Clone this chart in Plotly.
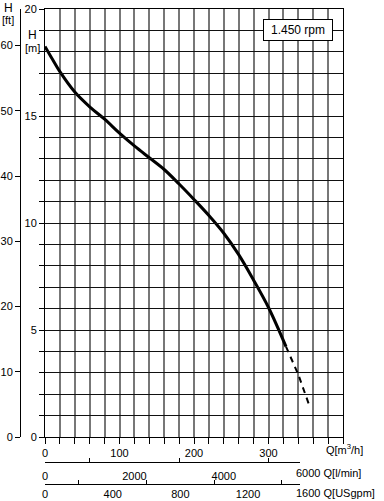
import plotly.graph_objects as go

# ---- data ----
q_solid = [0, 10, 20, 40, 60, 80, 100, 120, 140, 160, 180, 200, 220, 240, 260, 280, 300, 323.5]
h_solid = [18.25, 17.65, 17.07, 16.12, 15.43, 14.85, 14.2, 13.6, 13.05, 12.5, 11.82, 11.1, 10.35, 9.52, 8.52, 7.33, 6.05, 4.22]
q_dash = [323.5, 340, 355]
h_dash = [4.22, 2.92, 1.45]

q_ticks = [0, 100, 200, 300]
h_ticks = [0, 5, 10, 15, 20]
ft_ticks = [0, 10, 20, 30, 40, 50, 60]
lmin_ticks = [0, 2000, 4000]
lmin_minor = [1000, 3000, 5000]
gpm_ticks = [0, 400, 800, 1200]
gpm_minor = [200, 600, 1000, 1400]

M3H_TO_LMIN = 1000.0 / 60.0
M3H_TO_GPM = 4.40287
M_TO_FT = 1 / 0.3048

# ---- layout geometry (pixels) ----
W, H = 384, 501
X0, X1, YT, YB = 45, 343, 9, 437
Q_MAX, H_MAX = 400, 20
SEC_END = 300
px_per_q = (X1 - X0) / Q_MAX
q_end = (SEC_END - X0) / px_per_q


def fx(px):
    return px / W


def fy(py):
    return 1 - py / H


FONT = "Liberation Sans, Arial, sans-serif"
GRID_V = "#777777"
GRID_H = "#111111"

fig = go.Figure()
fig.add_trace(go.Scatter(x=q_solid, y=h_solid, mode="lines", line=dict(color="black", width=3, shape="spline"),
                         showlegend=False, hoverinfo="skip"))
fig.add_trace(go.Scatter(x=q_dash, y=h_dash, mode="lines", line=dict(color="black", width=2, dash="6px,5px"),
                         showlegend=False, hoverinfo="skip"))
# invisible anchor traces so the secondary unit axes are drawn
fig.add_trace(go.Scatter(x=[0], y=[0], xaxis="x", yaxis="y2", mode="markers", marker=dict(opacity=0, size=1),
                         showlegend=False, hoverinfo="skip"))
fig.add_trace(go.Scatter(x=[0], y=[0], xaxis="x2", yaxis="y", mode="markers", marker=dict(opacity=0, size=1),
                         showlegend=False, hoverinfo="skip"))
fig.add_trace(go.Scatter(x=[0], y=[0], xaxis="x3", yaxis="y", mode="markers", marker=dict(opacity=0, size=1),
                         showlegend=False, hoverinfo="skip"))

tickfont = dict(family=FONT, size=11, color="black")

fig.update_layout(
    width=W, height=H, margin=dict(l=0, r=0, t=0, b=0, pad=0, autoexpand=False),
    showlegend=False,
    paper_bgcolor="white", plot_bgcolor="rgba(0,0,0,0)",
    font=dict(family=FONT, size=11, color="black"),
    xaxis=dict(domain=[fx(X0), fx(X1)], range=[0, Q_MAX], anchor="y", automargin=False,
               tickmode="array", tickvals=q_ticks, ticks="outside", ticklen=6, tickcolor="black", tickwidth=1,
               showgrid=True, gridcolor=GRID_V, gridwidth=1.5, zeroline=False,
               showline=True, linecolor="black", linewidth=1, mirror=True, tickfont=tickfont,
               minor=dict(dtick=20, tick0=0, showgrid=True, gridcolor=GRID_V, gridwidth=1.5,
                          ticks="outside", ticklen=6, tickcolor="black", tickwidth=1)),
    yaxis=dict(domain=[fy(YB), fy(YT)], range=[0, H_MAX], anchor="x", automargin=False,
               tickmode="array", tickvals=h_ticks, ticks="outside", ticklen=5, tickcolor="black",
               showgrid=True, gridcolor=GRID_H, gridwidth=1.2, zeroline=False,
               showline=True, linecolor="black", linewidth=1, mirror=True, tickfont=tickfont,
               minor=dict(dtick=1, tick0=0, showgrid=True, gridcolor=GRID_H, gridwidth=1.2,
                          ticks="outside", ticklen=5, tickcolor="black")),
    yaxis2=dict(overlaying="y", anchor="free", position=fx(20), side="left", automargin=False,
                range=[0, H_MAX * M_TO_FT], tickmode="array", tickvals=ft_ticks,
                ticks="outside", ticklen=5, tickcolor="black", showgrid=False, zeroline=False,
                showline=True, linecolor="black", linewidth=1, tickfont=tickfont),
    xaxis2=dict(domain=[fx(X0), fx(SEC_END)], range=[0, q_end * M3H_TO_LMIN], anchor="free", position=fy(462),
                automargin=False,
                tickmode="array", tickvals=lmin_ticks, ticks="outside", ticklen=4, tickcolor="rgba(0,0,0,0)",
                showgrid=False, zeroline=False, showline=True, linecolor="black", linewidth=1, tickfont=tickfont,
                minor=dict(tickmode="array", tickvals=lmin_minor, ticks="inside", ticklen=4, tickcolor="black",
                           showgrid=False)),
    xaxis3=dict(domain=[fx(X0), fx(SEC_END)], range=[0, q_end * M3H_TO_GPM], anchor="free", position=fy(484),
                automargin=False,
                tickmode="array", tickvals=gpm_ticks, ticks="",
                showgrid=False, zeroline=False, showline=True, linecolor="black", linewidth=1, tickfont=tickfont,
                minor=dict(tickmode="array", tickvals=gpm_minor, ticks="inside", ticklen=4, tickcolor="black",
                           showgrid=False)),
)

ann = []


def txt(text, x, y, xanchor="center", size=11, **kw):
    ann.append(dict(text=text, x=fx(x), y=fy(y), xref="paper", yref="paper", xanchor=xanchor,
                    yanchor="middle", showarrow=False, font=dict(family=FONT, size=size, color="black"), **kw))


txt("H", 8, 8, size=12)
txt("[ft]", 8, 20, size=11)
txt("H", 32, 35, size=12)
txt("[m]", 32, 48, size=11)
txt("Q[m<sup>3</sup>/h]", 324, 449, xanchor="left")
txt("6000 Q[l/min]", 294, 473, xanchor="left")
txt("1600 Q[USgpm]", 294, 493, xanchor="left")
txt("1.450 rpm", 298, 30, size=12, bgcolor="white", bordercolor="black", borderwidth=1,
    borderpad=2, width=64, height=16)

fig.update_layout(annotations=ann)
fig.write_html("out.html", config={"displayModeBar": False},
               post_script="document.body.style.margin='0';document.body.style.overflow='hidden';")
